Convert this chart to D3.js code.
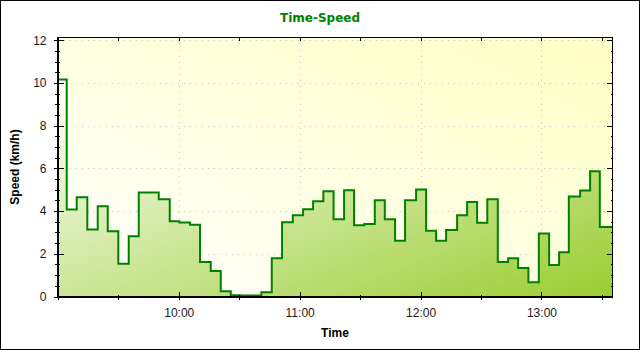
<!DOCTYPE html>
<html>
<head>
<meta charset="utf-8">
<script src="https://cdn.jsdelivr.net/npm/d3@7"></script>
<style>
  body { margin: 0; background: #fff; }
  .tick text { font-family: "Liberation Sans", Arial, sans-serif; font-size: 12px; fill: #1a1a1a; }
</style>
</head>
<body>
<div class="canvas"></div>
<script>
// values (one sample every ~5 min)
const times = ["08:59:50","09:04:25","09:09:22","09:14:38","09:19:48","09:24:46","09:30:01","09:35:11",
  "09:40:09","09:45:07","09:50:04","09:55:32","10:00:18","10:05:37","10:10:34","10:15:53","10:20:51",
  "10:25:49","10:30:46","10:35:44","10:41:00","10:46:10","10:51:16","10:56:35","11:01:42","11:06:40",
  "11:11:46","11:16:50","11:22:03","11:27:00","11:32:07","11:37:17","11:42:15","11:47:21","11:52:19",
  "11:57:47","12:02:45","12:07:42","12:12:40","12:18:08","12:23:06","12:28:03","12:33:07","12:38:20",
  "12:43:27","12:48:24","12:53:31","12:58:41","13:03:48","13:08:45","13:13:34","13:19:11","13:24:08",
  "13:28:57","13:35:15"];
const speeds = [10.16, 4.07, 4.65, 3.14, 4.23, 3.06, 1.53, 2.82, 4.87, 4.87, 4.56, 3.53, 3.47, 3.36,
  1.61, 1.19, 0.25, 0.06, 0.05, 0.05, 0.2, 1.79, 3.48, 3.81, 4.09, 4.46, 4.93, 3.62, 4.98, 3.34, 3.39,
  4.51, 3.62, 2.61, 4.51, 5.01, 3.08, 2.61, 3.11, 3.81, 4.42, 3.45, 4.55, 1.61, 1.79, 1.33, 0.67, 2.95,
  1.47, 2.07, 4.68, 4.96, 5.87, 3.25, 3.25];
const yTicks = [0, 2, 4, 6, 8, 10, 12];
const xTicks = ["10:00", "11:00", "12:00", "13:00"];

const chart = { width: 640, height: 350 };
const plot = { left: 57.5, right: 612.5, top: 37.5, bottom: 296.5 };

const parseTime = d3.timeParse('%H:%M:%S');
const parseHour = d3.timeParse('%H:%M');
const data = times.map((t, i) => ({ time: parseTime(t), speed: speeds[i] }));

const svg = d3.select('.canvas')
  .append('svg')
  .attr('width', chart.width)
  .attr('height', chart.height);

// scales
const x = d3.scaleTime()
  .domain(d3.extent(data, d => d.time))
  .range([plot.left, plot.right]);
const y = d3.scaleLinear()
  .domain([0, 12.13])
  .range([plot.bottom, plot.top]);

const xMajor = xTicks.map(parseHour);
const xMinor = x.ticks(d3.timeMinute.every(30));
const yMinor = d3.range(0, 12.01, 0.5);

// gradients
const defs = svg.append('defs');
const bgGrad = defs.append('linearGradient').attr('id', 'bgGrad')
  .attr('x1', 0).attr('y1', 1).attr('x2', 1).attr('y2', 0);
bgGrad.append('stop').attr('offset', 0).attr('stop-color', '#ffffff');
bgGrad.append('stop').attr('offset', 1).attr('stop-color', '#ffffc4');
const areaGrad = defs.append('linearGradient').attr('id', 'areaGrad')
  .attr('x1', 0).attr('y1', 0).attr('x2', 1).attr('y2', 1);
areaGrad.append('stop').attr('offset', 0).attr('stop-color', '#ffffff');
areaGrad.append('stop').attr('offset', 1).attr('stop-color', '#9acd32');
defs.append('clipPath').attr('id', 'clip')
  .append('rect')
  .attr('x', plot.left).attr('y', plot.top)
  .attr('width', plot.right - plot.left).attr('height', plot.bottom - plot.top);

// outer frame
svg.append('rect')
  .attr('x', 0.5).attr('y', 0.5)
  .attr('width', chart.width - 1).attr('height', chart.height - 1)
  .attr('fill', '#fff').attr('stroke', '#000');

// plot background
svg.append('rect')
  .attr('x', plot.left).attr('y', plot.top)
  .attr('width', plot.right - plot.left).attr('height', plot.bottom - plot.top)
  .attr('fill', 'url(#bgGrad)');

// dotted grid
const grid = svg.append('g')
  .attr('stroke', '#c4c4c4')
  .attr('stroke-dasharray', '1.5,4.5')
  .attr('shape-rendering', 'crispEdges');
grid.selectAll('.hgrid').data(yTicks.slice(1)).enter().append('line')
  .attr('x1', plot.left).attr('x2', plot.right)
  .attr('y1', d => Math.round(y(d)) + 0.5).attr('y2', d => Math.round(y(d)) + 0.5);
grid.selectAll('.vgrid').data(xMajor).enter().append('line')
  .attr('x1', d => Math.round(x(d)) + 0.5).attr('x2', d => Math.round(x(d)) + 0.5)
  .attr('y1', plot.top).attr('y2', plot.bottom);

// step area + line
const area = d3.area()
  .curve(d3.curveStepAfter)
  .x(d => x(d.time))
  .y0(y(0))
  .y1(d => y(d.speed));
const line = d3.line()
  .curve(d3.curveStepAfter)
  .x(d => x(d.time))
  .y(d => y(d.speed));

const series = svg.append('g').attr('clip-path', 'url(#clip)');
series.append('path')
  .datum(data)
  .attr('d', area)
  .attr('fill', 'url(#areaGrad)');
series.append('path')
  .datum(data)
  .attr('d', line)
  .attr('fill', 'none')
  .attr('stroke', '#008000')
  .attr('stroke-width', 2);

// plot border
svg.append('rect')
  .attr('x', plot.left).attr('y', plot.top)
  .attr('width', plot.right - plot.left).attr('height', plot.bottom - plot.top)
  .attr('fill', 'none').attr('stroke', '#000')
  .attr('shape-rendering', 'crispEdges');

// left axis
const yAxis = svg.append('g')
  .attr('transform', `translate(${plot.left},0)`)
  .call(d3.axisLeft(y).tickValues(yTicks).tickSize(4).tickSizeOuter(0).tickPadding(7))
  .attr('shape-rendering', 'crispEdges');
yAxis.selectAll('.tick line').attr('x1', 6).attr('x2', -4);
yAxis.select('.domain').attr('stroke', '#000');
svg.append('g')
  .attr('transform', `translate(${plot.left},0)`)
  .call(d3.axisLeft(y).tickValues(yMinor).tickFormat('').tickSize(3).tickSizeOuter(0))
  .attr('shape-rendering', 'crispEdges')
  .call(g => g.select('.domain').remove())
  .selectAll('.tick line').attr('x1', 2);

// right axis (ticks inside)
svg.append('g')
  .attr('transform', `translate(${plot.right},0)`)
  .call(d3.axisRight(y).tickValues(yMinor).tickFormat('').tickSize(0).tickSizeOuter(0))
  .attr('shape-rendering', 'crispEdges')
  .call(g => g.select('.domain').remove())
  .selectAll('.tick line').attr('x2', d => d % 2 === 0 ? -6 : -2);

// bottom axis
const xAxis = svg.append('g')
  .attr('transform', `translate(0,${plot.bottom})`)
  .call(d3.axisBottom(x).tickValues(xMajor).tickFormat(d3.timeFormat('%H:%M'))
    .tickSize(3).tickSizeOuter(0).tickPadding(9))
  .attr('shape-rendering', 'crispEdges');
xAxis.selectAll('.tick line').attr('y1', -5);
svg.append('g')
  .attr('transform', `translate(0,${plot.bottom})`)
  .call(d3.axisBottom(x).tickValues(xMinor).tickFormat('').tickSize(3).tickSizeOuter(0))
  .attr('shape-rendering', 'crispEdges')
  .call(g => g.select('.domain').remove())
  .selectAll('.tick line').attr('y1', -2);

// top axis (ticks inside)
svg.append('g')
  .attr('transform', `translate(0,${plot.top})`)
  .call(d3.axisTop(x).tickValues(xMinor).tickFormat('').tickSize(0).tickSizeOuter(0))
  .attr('shape-rendering', 'crispEdges')
  .call(g => g.select('.domain').remove())
  .selectAll('.tick line').attr('y2', 3);

// titles
svg.append('text')
  .attr('x', chart.width / 2).attr('y', 22)
  .attr('text-anchor', 'middle')
  .attr('font-family', '"DejaVu Sans", sans-serif')
  .attr('font-weight', 'bold').attr('font-size', '12px')
  .attr('fill', '#008000')
  .text('Time-Speed');
svg.append('text')
  .attr('x', (plot.left + plot.right) / 2).attr('y', 337)
  .attr('text-anchor', 'middle')
  .attr('font-family', '"Liberation Sans", Arial, sans-serif')
  .attr('font-weight', 'bold').attr('font-size', '12px')
  .attr('fill', '#000')
  .text('Time');
svg.append('text')
  .attr('transform', `translate(19,${(plot.top + plot.bottom) / 2}) rotate(-90)`)
  .attr('text-anchor', 'middle')
  .attr('font-family', '"Liberation Sans", Arial, sans-serif')
  .attr('font-weight', 'bold').attr('font-size', '12px')
  .attr('fill', '#000')
  .text('Speed (km/h)');
</script>
</body>
</html>
